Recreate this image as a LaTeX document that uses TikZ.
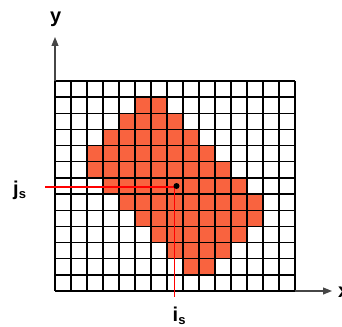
\documentclass[tikz,border=0pt]{standalone}
\usepackage{fontspec}
\setmainfont{Liberation Sans}
\usetikzlibrary{arrows.meta}
\definecolor{cellfill}{RGB}{249,99,63}
\definecolor{axisgray}{RGB}{70,70,70}
\tikzset{
  gridline/.style={black, line width=1.4pt},
  redline/.style={red, line width=1.6pt},
  axisline/.style={axisgray, line width=1.1pt, -{Triangle[length=9pt,width=7pt]}},
  lbl/.style={font=\fontsize{20}{20}\selectfont\bfseries, inner sep=0pt, anchor=base west},
}
\newcommand{\subs}[1]{\raisebox{-3pt}{\fontsize{13}{13}\selectfont\bfseries #1}}
\begin{document}
\begin{tikzpicture}[x=1pt,y=-1pt]
\useasboundingbox (0,0) rectangle (342,326);
% filled cells: row / first col / last col
\foreach \r/\a/\b in {1/5/6, 2/4/7, 3/3/8, 4/2/9, 5/2/10, 6/3/11, 7/4/12, 8/5/12, 9/6/11, 10/7/10, 11/8/9}{
  \fill[cellfill] (55+16*\a, 81+16.15*\r) rectangle (55+16*\b+16, 81+16.15*\r+16.15);
}
% grid
\foreach \i in {0,...,15}{
  \draw[gridline] (55+16*\i, 81) -- (55+16*\i, 291);
}
\foreach \j in {0,...,13}{
  \draw[gridline] (55, 81+16.15*\j) -- (295, 81+16.15*\j);
}
% axes
\coordinate (gtl) at (55,81);
\coordinate (gbr) at (295,291);
\coordinate (ytip) at (55,37);
\coordinate (xtip) at (332,291);
\draw[axisline] (gtl) -- (ytip);
\draw[axisline] (gbr) -- (xtip);
\node[lbl] (ylab) at (50,22.5) {y};
\node[lbl] (xlab) at (338,297) {x};
% red lines and point
\coordinate (jl) at (45,187);
\coordinate (corner) at (174.3,187);
\coordinate (ib) at (174.3,297);
\draw[redline] (jl) -- (corner) -- (ib);
\node[circle, fill=black, inner sep=0pt, minimum size=6pt] (pt) at (176.5,186) {};
\node[lbl] (jlab) at (13,195.5) {j\subs{s}};
\node[lbl] (ilab) at (172.5,321.5) {i\subs{s}};
\end{tikzpicture}
\end{document}
